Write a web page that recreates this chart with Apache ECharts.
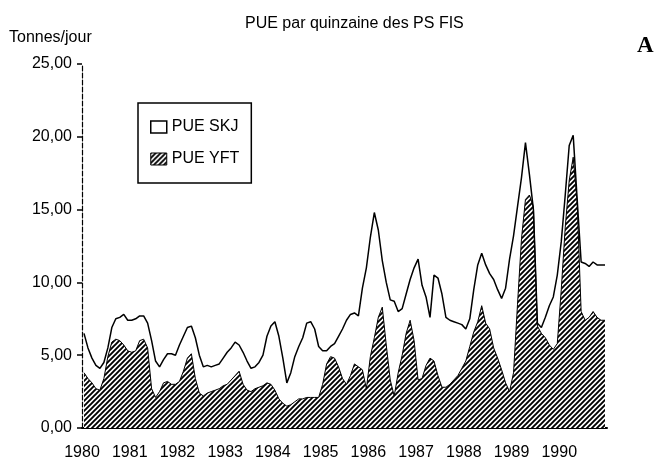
<!DOCTYPE html>
<html>
<head>
<meta charset="utf-8">
<script src="https://cdn.jsdelivr.net/npm/echarts@6/dist/echarts.min.js"></script>
<style>
html,body{margin:0;padding:0;background:#fff;}
#chart{width:658px;height:464px;}
</style>
</head>
<body>
<div id="chart"></div>
<script>
// Year tick labels
var years = [1980, 1981, 1982, 1983, 1984, 1985, 1986, 1987, 1988, 1989, 1990];
// Monthly CPUE (tonnes/jour), Jan 1980 .. Dec 1990
var skj = [
  6.5, 5.5, 4.8, 4.3, 4.1, 4.5, 5.5, 6.9, 7.5, 7.6, 7.8, 7.4,
  7.4, 7.5, 7.7, 7.7, 7.2, 6.0, 4.6, 4.2, 4.7, 5.1, 5.1, 5.0,
  5.7, 6.3, 6.9, 7.0, 6.2, 5.0, 4.2, 4.3, 4.2, 4.3, 4.4, 4.8,
  5.2, 5.5, 5.9, 5.7, 5.2, 4.6, 4.1, 4.2, 4.5, 5.0, 6.3, 7.0,
  7.3, 6.3, 4.8, 3.1, 3.8, 4.9, 5.6, 6.2, 7.2, 7.3, 6.8, 5.6,
  5.3, 5.3, 5.6, 5.8, 6.3, 6.8, 7.4, 7.8, 7.9, 7.7, 9.6, 11.0,
  13.1, 14.8, 13.6, 11.5, 10.0, 8.8, 8.7, 8.0, 8.2, 9.2, 10.2, 11.0,
  11.6, 9.8, 9.0, 7.6, 10.5, 10.3, 9.2, 7.6, 7.4, 7.3, 7.2, 7.1,
  6.8, 7.5, 9.5, 11.2, 12.0, 11.2, 10.6, 10.2, 9.5, 8.9, 9.6, 11.6,
  13.2, 15.2, 17.2, 19.6, 17.4, 15.0, 7.2, 6.9, 7.6, 8.4, 9.0, 10.5,
  12.8, 16.0, 19.4, 20.1, 15.7, 11.4, 11.3, 11.1, 11.4, 11.2, 11.2, 11.2
];
var yft = [
  3.8, 3.4, 3.1, 2.7, 2.6, 3.4, 4.9, 5.9, 6.1, 6.0, 5.7, 5.3,
  5.2, 5.3, 6.0, 6.1, 5.5, 2.7, 2.1, 2.5, 3.1, 3.2, 3.0, 3.0,
  3.2, 3.9, 4.8, 5.1, 3.4, 2.4, 2.2, 2.4, 2.5, 2.6, 2.7, 2.9,
  3.0, 3.3, 3.6, 3.9, 3.0, 2.6, 2.5, 2.7, 2.8, 2.9, 3.1, 3.0,
  2.6, 2.0, 1.7, 1.5, 1.6, 1.8, 2.0, 2.0, 2.1, 2.1, 2.1, 2.1,
  3.0, 4.4, 4.9, 4.8, 4.2, 3.4, 3.0, 3.6, 4.4, 4.2, 4.0, 2.7,
  4.9, 6.2, 7.6, 8.3, 5.7, 3.3, 2.2, 3.8, 5.0, 6.5, 7.4, 6.0,
  3.3, 3.4, 4.3, 4.8, 4.6, 3.6, 2.8, 2.8, 3.0, 3.3, 3.6, 4.1,
  4.6, 5.6, 6.6, 7.3, 8.4, 7.2, 6.8, 5.5, 4.8, 4.0, 3.1, 2.5,
  3.8, 8.5, 13.0, 15.7, 16.0, 15.2, 7.0, 6.5, 6.2, 5.7, 5.4, 5.8,
  9.5, 13.8, 17.0, 18.6, 15.5, 8.0, 7.4, 7.6, 8.0, 7.6, 7.4, 7.4
];
var seriesNames = ['PUE SKJ', 'PUE YFT'];
var titleText = 'PUE par quinzaine des PS FIS';
var unitText = 'Tonnes/jour';

function toPoints(vals) {
  return vals.map(function (v, i) {
    return [years[0] + (i + 0.5) / 12, v];
  });
}

// hatch pattern
var tile = document.createElement('canvas');
tile.width = 5; tile.height = 5;
var c = tile.getContext('2d');
c.fillStyle = '#fff';
c.fillRect(0, 0, 5, 5);
c.strokeStyle = '#000';
c.lineWidth = 1.9;
c.beginPath();
c.moveTo(-1, 6); c.lineTo(6, -1);
c.moveTo(-1, 1); c.lineTo(1, -1);
c.moveTo(4, 6); c.lineTo(6, 4);
c.stroke();
var hatch = { image: tile, repeat: 'repeat' };

var font = 'Liberation Sans, Arial, sans-serif';
var chart = echarts.init(document.getElementById('chart'), null, { renderer: 'canvas' });
chart.setOption({
  backgroundColor: '#fff',
  animation: false,
  title: {
    text: titleText,
    left: 240, top: 11,
    textStyle: { fontFamily: font, fontSize: 16, fontWeight: 'normal', color: '#000' }
  },
  graphic: [
    { type: 'text', left: 9, top: 30, style: { text: unitText, font: '16px ' + font, fill: '#000' } },
    { type: 'text', left: 637, top: 35, style: { text: 'A', font: 'bold 23px Liberation Serif, serif', fill: '#000' } }
  ],
  legend: {
    orient: 'vertical',
    left: 138, top: 103,
    padding: [16, 12, 16, 12],
    itemGap: 16,
    itemWidth: 16, itemHeight: 12,
    borderColor: '#000', borderWidth: 1.5,
    textStyle: { fontFamily: font, fontSize: 16, color: '#000' },
    data: [
      { name: seriesNames[0], icon: 'rect', itemStyle: { color: '#fff', borderColor: '#000', borderWidth: 1.5 } },
      { name: seriesNames[1], icon: 'rect', itemStyle: { color: hatch, borderColor: '#000', borderWidth: 1 } }
    ]
  },
  grid: { left: 82, right: 51, top: 64, bottom: 36, containLabel: false },
  xAxis: {
    type: 'value',
    min: years[0], max: years[years.length - 1] + 1, interval: 1,
    axisLine: { show: true, lineStyle: { color: '#000', width: 2 } },
    axisTick: { show: false },
    splitLine: { show: false },
    axisLabel: {
      margin: 17,
      fontFamily: font, fontSize: 16, color: '#000',
      formatter: function (v) { return years.indexOf(v) >= 0 ? String(v) : ''; }
    }
  },
  yAxis: {
    type: 'value',
    min: 0, max: 25, interval: 5,
    axisLine: { show: true, lineStyle: { color: '#000', width: 1.2, type: [5, 2] } },
    axisTick: { show: true, length: 5, lineStyle: { color: '#000', width: 1.5 } },
    splitLine: { show: false },
    axisLabel: {
      margin: 10,
      fontFamily: font, fontSize: 16, color: '#000',
      formatter: function (v) { return v.toFixed(2).replace('.', ','); }
    }
  },
  series: [
    {
      name: seriesNames[0], type: 'line', data: toPoints(skj),
      showSymbol: false, symbol: 'none',
      lineStyle: { color: '#000', width: 1.5 },
      itemStyle: { color: '#fff', borderColor: '#000' },
      z: 3
    },
    {
      name: seriesNames[1], type: 'line', data: toPoints(yft),
      showSymbol: false, symbol: 'none',
      lineStyle: { color: '#000', width: 1 },
      itemStyle: { color: '#000' },
      areaStyle: { color: hatch, opacity: 1 },
      z: 2
    }
  ]
});
</script>
</body>
</html>
